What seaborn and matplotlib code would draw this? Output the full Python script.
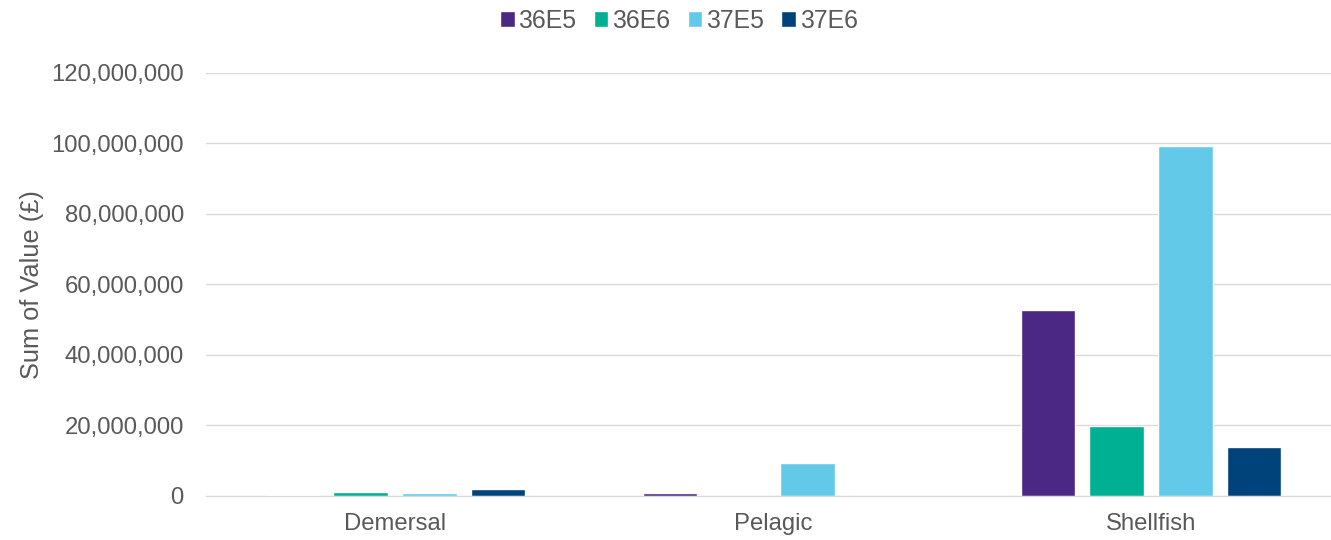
import pandas as pd
import matplotlib.pyplot as plt
import seaborn as sns
from matplotlib.ticker import FuncFormatter

# data
categories = ['Demersal', 'Pelagic', 'Shellfish']
rectangles = ['36E5', '36E6', '37E5', '37E6']
v_36E5 = [300000, 800000, 52800000]
v_36E6 = [1100000, 0, 19900000]
v_37E5 = [900000, 9400000, 99400000]
v_37E6 = [2000000, 0, 13900000]

colors = ['#4B2884', '#00B092', '#62CAE8', '#00437A']

rows = []
for rect, vals in zip(rectangles, [v_36E5, v_36E6, v_37E5, v_37E6]):
    for cat, v in zip(categories, vals):
        rows.append({'Category': cat, 'Rectangle': rect, 'Value': v})
df = pd.DataFrame(rows)

sns.set_style('white')
plt.rcParams['font.family'] = ['Liberation Sans', 'DejaVu Sans']
grey = '#595959'

fig = plt.figure(figsize=(13.31, 5.4), dpi=100)
ax = fig.add_axes([0.1548, 0.0815, 0.852, 0.7835])

sns.barplot(data=df, x='Category', y='Value', hue='Rectangle', palette=colors,
            saturation=1, width=0.728, gap=0.21, ax=ax, legend=True)

ax.set_ylim(0, 120000000)
ax.set_yticks(range(0, 120000001, 20000000))
ax.yaxis.set_major_formatter(FuncFormatter(lambda v, p: f'{int(v):,}'))
ax.grid(axis='y', color='#D9D9D9', linewidth=1)
ax.set_axisbelow(True)
for s in ['top', 'right', 'left']:
    ax.spines[s].set_visible(False)
ax.spines['bottom'].set_color('#D9D9D9')
ax.tick_params(axis='y', length=0, labelsize=17.2, labelcolor=grey, pad=16)
ax.tick_params(axis='x', length=0, labelsize=17.2, labelcolor=grey, pad=12)
ax.set_xlabel('')
ax.set_ylabel('Sum of Value (£)', fontsize=18.3, color=grey, labelpad=5)

handles, labels = ax.get_legend_handles_labels()
ax.legend_.remove()
fig.legend(handles, labels, loc='center', bbox_to_anchor=(0.51, 0.961),
           ncol=4, frameon=False, fontsize=17.8, labelcolor=grey,
           handlelength=0.6, handleheight=0.6, handletextpad=0.15, columnspacing=0.7)

plt.savefig('out.png', dpi=100)
